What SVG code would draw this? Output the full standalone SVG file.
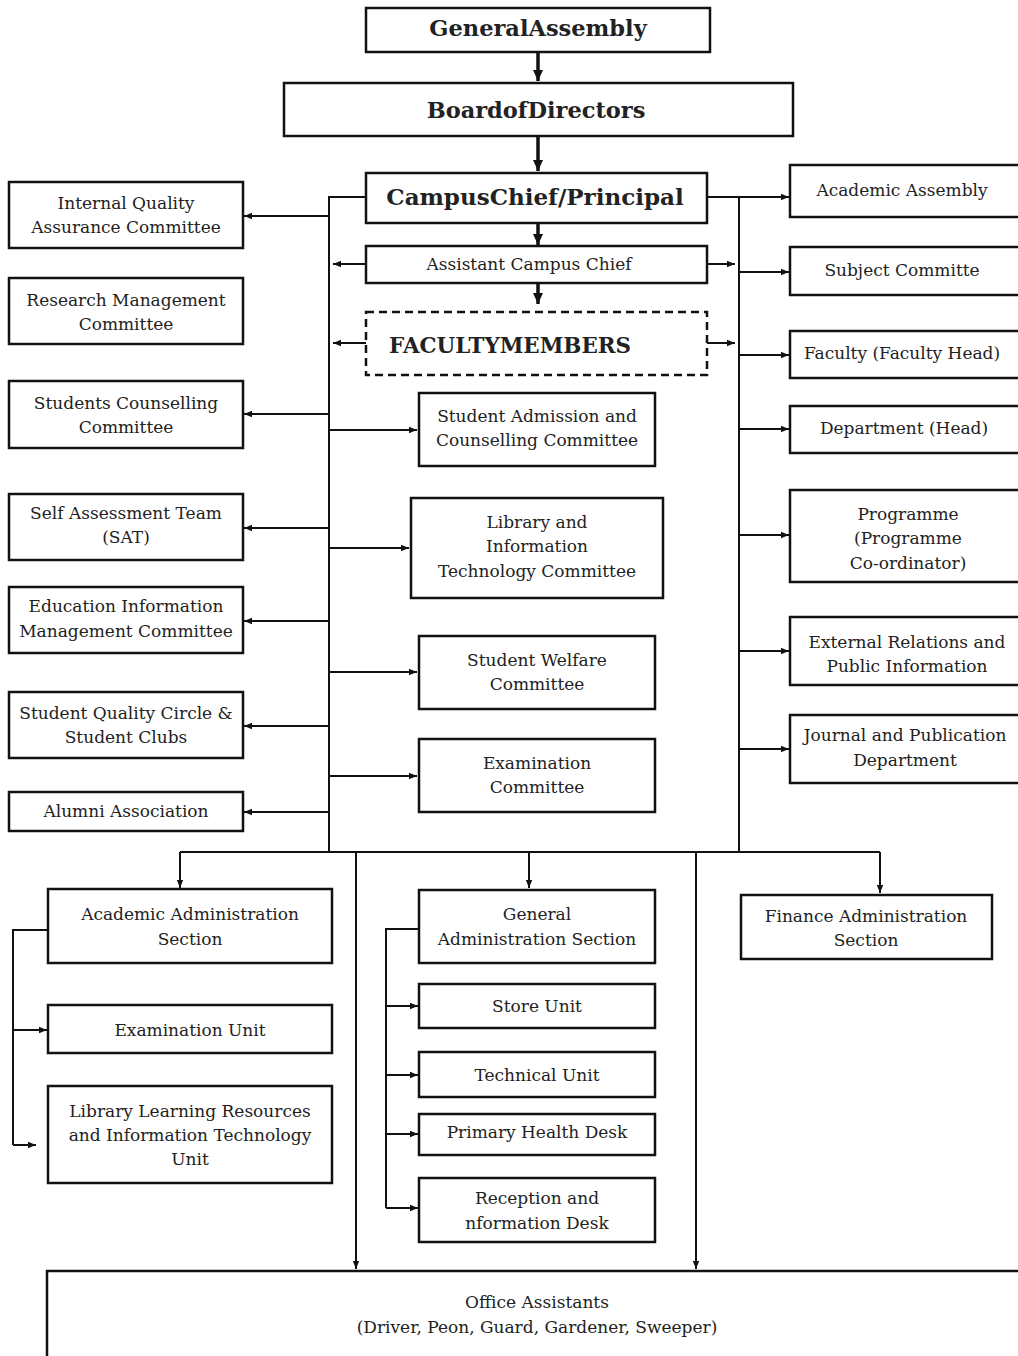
<svg xmlns="http://www.w3.org/2000/svg" width="1018" height="1356" viewBox="0 0 1018 1356">
<defs>
<marker id="ah" markerUnits="userSpaceOnUse" markerWidth="9" markerHeight="8" refX="8" refY="4" orient="auto"><path d="M0,0.8 L8,4 L0,7.2 z" fill="#111"/></marker>
<marker id="ahb" markerUnits="userSpaceOnUse" markerWidth="12" markerHeight="12" refX="11" refY="6" orient="auto"><path d="M0,1 L11,6 L0,11 z" fill="#111"/></marker>
<style>
.b{fill:#fff;stroke:#111;stroke-width:2.5}
.d{fill:#fff;stroke:#111;stroke-width:2.5;stroke-dasharray:8 5}
.t{font-family:"DejaVu Serif","Liberation Serif",serif;font-size:17px;fill:#222;text-anchor:middle}
.h{font-family:"DejaVu Serif","Liberation Serif",serif;font-size:22.5px;font-weight:bold;fill:#222;text-anchor:middle}
.c{fill:none;stroke:#111;stroke-width:2}
.a{fill:none;stroke:#111;stroke-width:2;marker-end:url(#ah)}
.ab{fill:none;stroke:#111;stroke-width:3.5;marker-end:url(#ahb)}
</style>
</defs>
<rect width="1018" height="1356" fill="#fff"/>
<g id="connectors">
<path class="ab" d="M538,52 V81"/>
<path class="ab" d="M538,136 V171"/>
<path class="ab" d="M538,223 V245"/>
<path class="ab" d="M538,283 V304"/>
<path class="a" d="M366,264 H333"/>
<path class="a" d="M707,264 H735"/>
<path class="a" d="M366,343 H333"/>
<path class="a" d="M707,343 H735"/>
<path class="c" d="M366,197 H329 V852"/>
<path class="a" d="M329,216 H244"/>
<path class="a" d="M329,414 H244"/>
<path class="a" d="M329,528 H244"/>
<path class="a" d="M329,621 H244"/>
<path class="a" d="M329,726 H244"/>
<path class="a" d="M329,812 H244"/>
<path class="a" d="M329,430 H417"/>
<path class="a" d="M329,548 H409"/>
<path class="a" d="M329,672 H417"/>
<path class="a" d="M329,776 H417"/>
<path class="a" d="M707,197 H789"/>
<path class="c" d="M739,197 V852"/>
<path class="a" d="M739,272 H789"/>
<path class="a" d="M739,355 H789"/>
<path class="a" d="M739,429 H789"/>
<path class="a" d="M739,535 H789"/>
<path class="a" d="M739,651 H789"/>
<path class="a" d="M739,749 H789"/>
<path class="c" d="M180,852 H880"/>
<path class="a" d="M180,852 V888"/>
<path class="a" d="M529,852 V888"/>
<path class="a" d="M880,852 V893"/>
<path class="a" d="M356,852 V1269"/>
<path class="a" d="M696,852 V1269"/>
<path class="c" d="M48,930 H13 V1145"/>
<path class="a" d="M13,1030 H47"/>
<path class="a" d="M13,1145 H36"/>
<path class="c" d="M419,929 H386 V1208"/>
<path class="a" d="M386,1006 H418"/>
<path class="a" d="M386,1075 H418"/>
<path class="a" d="M386,1134 H418"/>
<path class="a" d="M386,1208 H418"/>
</g>
<g id="general-assembly"><rect class="b" x="366" y="8" width="344" height="44"/><text class="h" x="538" y="36">GeneralAssembly</text></g>
<g id="board-of-directors"><rect class="b" x="284" y="83" width="509" height="53"/><text class="h" x="536" y="118">BoardofDirectors</text></g>
<g id="campus-chief"><rect class="b" x="366" y="173" width="341" height="50"/><text class="h" x="535" y="205" style="font-size:23px">CampusChief/Principal</text></g>
<g id="assistant-campus-chief"><rect class="b" x="366" y="246" width="341" height="37"/><text class="t" x="529" y="270">Assistant Campus Chief</text></g>
<g id="faculty-members"><rect class="d" x="366" y="312" width="341" height="63"/><text class="h" x="389" y="353" style="text-anchor:start;font-size:21.4px">FACULTYMEMBERS</text></g>

<g id="iqac"><rect class="b" x="9" y="182" width="234" height="66"/><text class="t" x="126" y="209">Internal Quality</text><text class="t" x="126" y="233">Assurance Committee</text></g>
<g id="rmc"><rect class="b" x="9" y="278" width="234" height="66"/><text class="t" x="126" y="306">Research Management</text><text class="t" x="126" y="330">Committee</text></g>
<g id="scc"><rect class="b" x="9" y="381" width="234" height="67"/><text class="t" x="126" y="409">Students Counselling</text><text class="t" x="126" y="433">Committee</text></g>
<g id="sat"><rect class="b" x="9" y="494" width="234" height="66"/><text class="t" x="126" y="519">Self Assessment Team</text><text class="t" x="126" y="543">(SAT)</text></g>
<g id="eimc"><rect class="b" x="9" y="587" width="234" height="66"/><text class="t" x="126" y="612">Education Information</text><text class="t" x="126" y="637">Management Committee</text></g>
<g id="sqc"><rect class="b" x="9" y="692" width="234" height="66"/><text class="t" x="126" y="719">Student Quality Circle &amp;</text><text class="t" x="126" y="743">Student Clubs</text></g>
<g id="alumni"><rect class="b" x="9" y="792" width="234" height="39"/><text class="t" x="126" y="817">Alumni Association</text></g>

<g id="sacc"><rect class="b" x="419" y="393" width="236" height="73"/><text class="t" x="537" y="422">Student Admission and</text><text class="t" x="537" y="446">Counselling Committee</text></g>
<g id="litc"><rect class="b" x="411" y="498" width="252" height="100"/><text class="t" x="537" y="528">Library and</text><text class="t" x="537" y="552">Information</text><text class="t" x="537" y="577">Technology Committee</text></g>
<g id="swc"><rect class="b" x="419" y="636" width="236" height="73"/><text class="t" x="537" y="666">Student Welfare</text><text class="t" x="537" y="690">Committee</text></g>
<g id="exam-committee"><rect class="b" x="419" y="739" width="236" height="73"/><text class="t" x="537" y="769">Examination</text><text class="t" x="537" y="793">Committee</text></g>

<g id="academic-assembly"><rect class="b" x="790" y="165" width="240" height="52"/><text class="t" x="902" y="196">Academic Assembly</text></g>
<g id="subject-committe"><rect class="b" x="790" y="247" width="240" height="48"/><text class="t" x="902" y="276">Subject Committe</text></g>
<g id="faculty"><rect class="b" x="790" y="331" width="240" height="47"/><text class="t" x="902" y="359">Faculty (Faculty Head)</text></g>
<g id="department"><rect class="b" x="790" y="406" width="240" height="47"/><text class="t" x="904" y="434">Department (Head)</text></g>
<g id="programme"><rect class="b" x="790" y="490" width="240" height="92"/><text class="t" x="908" y="520">Programme</text><text class="t" x="908" y="544">(Programme</text><text class="t" x="908" y="569">Co-ordinator)</text></g>
<g id="external-relations"><rect class="b" x="790" y="617" width="240" height="68"/><text class="t" x="907" y="648">External Relations and</text><text class="t" x="907" y="672">Public Information</text></g>
<g id="journal"><rect class="b" x="790" y="715" width="240" height="68"/><text class="t" x="905" y="741">Journal and Publication</text><text class="t" x="905" y="766">Department</text></g>

<g id="academic-admin"><rect class="b" x="48" y="889" width="284" height="74"/><text class="t" x="190" y="920">Academic Administration</text><text class="t" x="190" y="945">Section</text></g>
<g id="exam-unit"><rect class="b" x="48" y="1005" width="284" height="48"/><text class="t" x="190" y="1036">Examination Unit</text></g>
<g id="library-learning"><rect class="b" x="48" y="1086" width="284" height="97"/><text class="t" x="190" y="1117">Library Learning Resources</text><text class="t" x="190" y="1141">and Information Technology</text><text class="t" x="190" y="1165">Unit</text></g>

<g id="general-admin"><rect class="b" x="419" y="890" width="236" height="73"/><text class="t" x="537" y="920">General</text><text class="t" x="537" y="945">Administration Section</text></g>
<g id="store-unit"><rect class="b" x="419" y="984" width="236" height="44"/><text class="t" x="537" y="1012">Store Unit</text></g>
<g id="technical-unit"><rect class="b" x="419" y="1052" width="236" height="45"/><text class="t" x="537" y="1081">Technical Unit</text></g>
<g id="primary-health"><rect class="b" x="419" y="1114" width="236" height="41"/><text class="t" x="537" y="1138">Primary Health Desk</text></g>
<g id="reception"><rect class="b" x="419" y="1178" width="236" height="64"/><text class="t" x="537" y="1204">Reception and</text><text class="t" x="537" y="1229">nformation Desk</text></g>

<g id="finance-admin"><rect class="b" x="741" y="895" width="251" height="64"/><text class="t" x="866" y="922">Finance Administration</text><text class="t" x="866" y="946">Section</text></g>

<g id="office-assistants"><rect class="b" x="47" y="1271" width="1000" height="120"/><text class="t" x="537" y="1308">Office Assistants</text><text class="t" x="537" y="1333">(Driver, Peon, Guard, Gardener, Sweeper)</text></g>
</svg>
